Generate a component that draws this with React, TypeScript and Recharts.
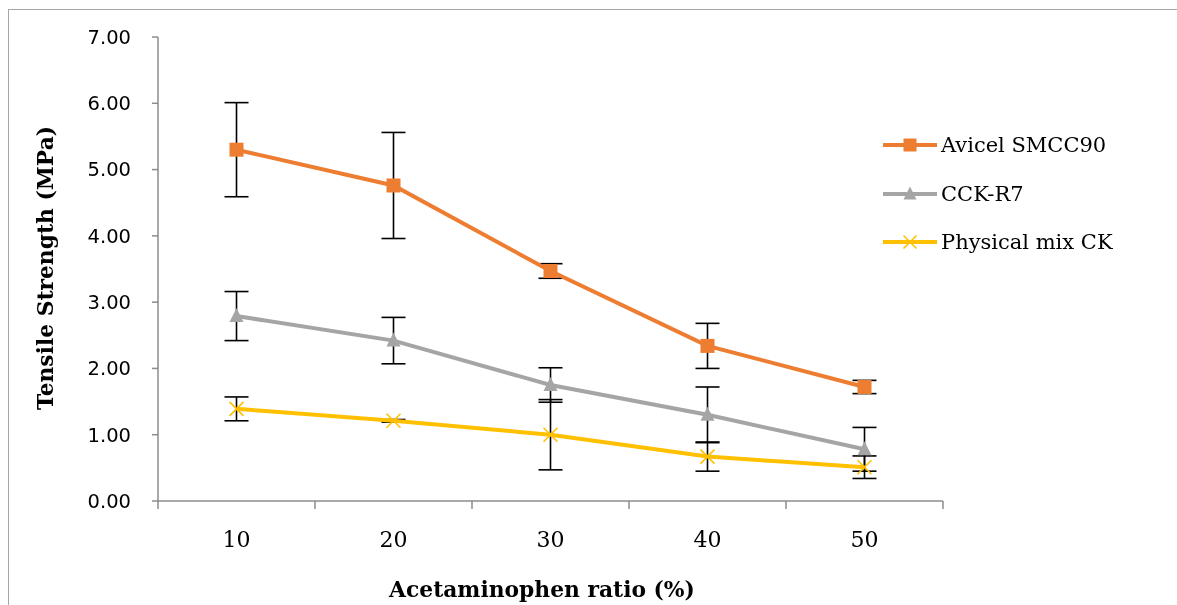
import { LineChart, Line, XAxis, YAxis, ErrorBar } from "recharts";

const ratios = [10, 20, 30, 40, 50];
const avicel = [5.3, 4.76, 3.47, 2.34, 1.72];
const avicelErr = [0.71, 0.8, 0.11, 0.34, 0.1];
const cck = [2.79, 2.42, 1.75, 1.3, 0.78];
const cckErr = [0.37, 0.35, 0.26, 0.42, 0.33];
const mix = [1.39, 1.21, 1.0, 0.67, 0.51];
const mixErr = [0.18, 0.02, 0.53, 0.22, 0.17];
const yTicks = [0, 1, 2, 3, 4, 5, 6, 7];
// odd multiples of 5 carry the category separators, even ones the labels
const xTicks = [5, 10, 15, 20, 25, 30, 35, 40, 45, 50, 55];

const data = ratios.map((r, i) => ({
  ratio: r,
  avicel: avicel[i],
  avicelErr: avicelErr[i],
  cck: cck[i],
  cckErr: cckErr[i],
  mix: mix[i],
  mixErr: mixErr[i],
}));

const AXIS = "#8c8c8c";
const SERIF = "'DejaVu Serif', serif";

type Shape = "square" | "triangle" | "cross";

const series: { key: string; err: string; name: string; color: string; shape: Shape }[] = [
  { key: "avicel", err: "avicelErr", name: "Avicel SMCC90", color: "#ED7D31", shape: "square" },
  { key: "cck", err: "cckErr", name: "CCK-R7", color: "#A5A5A5", shape: "triangle" },
  { key: "mix", err: "mixErr", name: "Physical mix CK", color: "#FFC000", shape: "cross" },
];

function Marker({ cx, cy, shape, color, size }: { cx: number; cy: number; shape: Shape; color: string; size: number }) {
  const h = size / 2;
  if (shape === "square") {
    return <rect x={cx - h} y={cy - h} width={size} height={size} fill={color} />;
  }
  if (shape === "triangle") {
    return <polygon points={`${cx},${cy - h - 1} ${cx + h},${cy + h - 1} ${cx - h},${cy + h - 1}`} fill={color} />;
  }
  return (
    <g stroke={color} strokeWidth={1.6}>
      <line x1={cx - h} y1={cy - h} x2={cx + h} y2={cy + h} />
      <line x1={cx - h} y1={cy + h} x2={cx + h} y2={cy - h} />
    </g>
  );
}

function XTick(props: any) {
  const { x, y, payload } = props;
  if (payload.value % 10 === 5) {
    return <line x1={x} y1={y} x2={x} y2={y + 8} stroke={AXIS} strokeWidth={1.5} />;
  }
  return (
    <text x={x} y={y + 46} textAnchor="middle" fontFamily={SERIF} fontSize={22} fill="#000">
      {payload.value}
    </text>
  );
}

export default function App() {
  return (
    <div style={{ position: "fixed", left: 8, top: 8, width: 1169, height: 597, overflow: "hidden" }}>
      <div
        style={{
          position: "absolute",
          boxSizing: "border-box",
          left: 0,
          top: 1,
          width: 1169,
          height: 596,
          borderTop: "1.5px solid #a6a6a6",
          borderLeft: "1.5px solid #a6a6a6",
        }}
      />
      <div style={{ position: "absolute", left: 0, top: 0 }}>
        <LineChart width={1169} height={597} data={data} margin={{ top: 29, right: 234, left: 70, bottom: 44 }}>
          <XAxis
            dataKey="ratio"
            type="number"
            domain={[5, 55]}
            ticks={xTicks}
            interval={0}
            tickSize={0}
            tickMargin={0}
            tickLine={false}
            tick={<XTick />}
            height={60}
            axisLine={{ stroke: AXIS, strokeWidth: 1.5 }}
            label={{
              content: () => (
                <text x={534} y={589} textAnchor="middle" fontFamily={SERIF} fontWeight="bold" fontSize={21.8} fill="#000">
                  Acetaminophen ratio (%)
                </text>
              ),
            }}
          />
          <YAxis
            type="number"
            domain={[0, 7]}
            ticks={yTicks}
            interval={0}
            width={80}
            tickSize={6}
            tickMargin={21}
            tickFormatter={(v: number) => v.toFixed(2)}
            tick={{ fontFamily: "'DejaVu Sans', sans-serif", fontSize: 19.5, fill: "#000" }}
            tickLine={{ stroke: AXIS, strokeWidth: 1.5 }}
            axisLine={{ stroke: AXIS, strokeWidth: 1.5 }}
            label={{
              content: () => (
                <text
                  x={37}
                  y={260}
                  transform="rotate(-90 37 260)"
                  textAnchor="middle"
                  dominantBaseline="central"
                  fontFamily={SERIF}
                  fontWeight="bold"
                  fontSize={21.8}
                  fill="#000"
                >
                  Tensile Strength (MPa)
                </text>
              ),
            }}
          />
          {series.map((s) => (
            <Line
              key={s.key}
              dataKey={s.key}
              name={s.name}
              type="linear"
              stroke={s.color}
              strokeWidth={4}
              isAnimationActive={false}
              activeDot={false}
              dot={(p: any) => (
                <Marker key={`${s.key}-${p.index}`} cx={p.cx} cy={p.cy} shape={s.shape} color={s.color} size={14} />
              )}
            >
              <ErrorBar dataKey={s.err} direction="y" width={12} stroke="#000" strokeWidth={1.6} />
            </Line>
          ))}
        </LineChart>
      </div>
      <div style={{ position: "absolute", left: 873, top: 113 }}>
        {series.map((s) => (
          <div key={s.key} style={{ display: "flex", alignItems: "center", height: 48.5 }}>
            <svg width={60} height={20}>
              <line x1={2} y1={10} x2={56} y2={10} stroke={s.color} strokeWidth={4} />
              <Marker cx={29} cy={10} shape={s.shape} color={s.color} size={13} />
            </svg>
            <span style={{ fontFamily: SERIF, fontSize: 21, color: "#000" }}>{s.name}</span>
          </div>
        ))}
      </div>
    </div>
  );
}
